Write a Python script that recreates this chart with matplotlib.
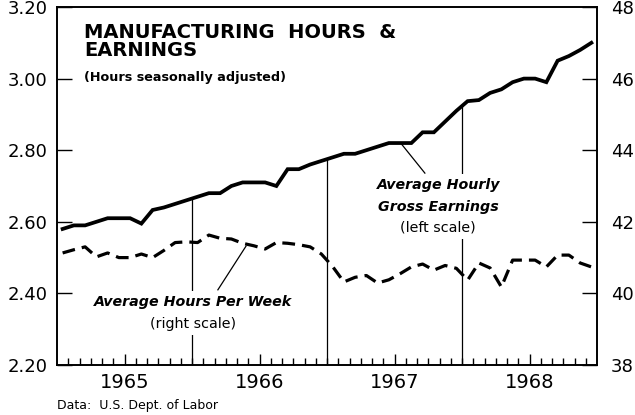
import numpy as np
import matplotlib
matplotlib.use('Agg')
import matplotlib.pyplot as plt

# monthly data, Jan 1965 - Dec 1968
years = [1965, 1966, 1967, 1968]
earnings = [2.58, 2.59, 2.59, 2.60, 2.61, 2.61, 2.61, 2.595, 2.633, 2.64, 2.65, 2.66,
            2.67, 2.68, 2.68, 2.70, 2.71, 2.71, 2.71, 2.70, 2.747, 2.747, 2.76, 2.77,
            2.78, 2.79, 2.79, 2.80, 2.81, 2.82, 2.82, 2.82, 2.85, 2.85, 2.88, 2.91,
            2.937, 2.94, 2.96, 2.97, 2.99, 3.00, 3.00, 2.99, 3.05, 3.063, 3.08, 3.10]
hours = [41.13, 41.22, 41.30, 41.02, 41.13, 41.0, 41.0, 41.1, 41.0, 41.2, 41.42, 41.44,
         41.42, 41.63, 41.54, 41.52, 41.4, 41.33, 41.24, 41.42, 41.4, 41.36, 41.3, 41.1,
         40.75, 40.32, 40.45, 40.5, 40.29, 40.38, 40.55, 40.74, 40.82, 40.65, 40.78, 40.7,
         40.37, 40.85, 40.71, 40.18, 40.93, 40.93, 40.93, 40.74, 41.07, 41.07, 40.85, 40.74]

months = np.arange(len(earnings)) + 0.5  # plotted mid-month

fig = plt.figure(figsize=(6.35, 4.15), dpi=100)
ax = fig.add_axes([57/635, 1-365/415, 540/635, 358/415])

ax.plot(months, earnings, color='black', lw=2.7, solid_joinstyle='miter')
ax.set_xlim(0, 48)
ax.set_ylim(2.20, 3.20)

ax2 = ax.twinx()
ln, = ax2.plot(months, hours, color='black', lw=2.3)
ln.set_dashes((4, 2.2))
ax2.set_ylim(38, 48)

# year divider lines up to the earnings line
for b in [12, 24, 36]:
    top = np.interp(b, months, earnings)
    ax.plot([b, b], [2.20, top], color='black', lw=0.9, zorder=1)

# ticks
ax.set_yticks([2.20, 2.40, 2.60, 2.80, 3.00, 3.20])
ax.set_yticklabels(['2.20', '2.40', '2.60', '2.80', '3.00', '3.20'])
ax.tick_params(axis='y', direction='in', length=11, width=1, labelsize=13, pad=7)
ax2.set_yticks([38, 40, 42, 44, 46, 48])
ax2.tick_params(axis='y', direction='in', length=11, width=1, labelsize=13, pad=10)

ax.set_xticks([6, 18, 30, 42])
ax.set_xticklabels([str(y) for y in years])
ax.set_xticks(np.arange(1, 48), minor=True)
ax.tick_params(axis='x', which='major', direction='in', length=8, width=1,
               labelsize=14, pad=6)
ax.tick_params(axis='x', which='minor', direction='in', length=5, width=1)
ax2.tick_params(axis='x', which='both', bottom=False)

for a in (ax, ax2):
    for s in a.spines.values():
        s.set_linewidth(1.2)

# title block
ax.text(0.05, 0.955, 'MANUFACTURING  HOURS  &\nEARNINGS', transform=ax.transAxes,
        fontsize=14, fontweight='bold', va='top', ha='left', linespacing=0.9)
ax.text(0.05, 0.82, '(Hours seasonally adjusted)', transform=ax.transAxes,
        fontsize=9.2, fontweight='bold', va='top', ha='left')

# labels
white = dict(facecolor='white', edgecolor='none', pad=3)
lbl = dict(fontsize=10.3, ha='center', va='center', bbox=white, zorder=3)
ax.text(33.9, 2.703, 'Average Hourly', fontweight='bold', style='italic', **lbl)
ax.text(33.9, 2.642, 'Gross Earnings', fontweight='bold', style='italic', **lbl)
ax.text(33.9, 2.583, '(left scale)', **lbl)
ax.plot([30.6, 32.7], [2.818, 2.736], color='black', lw=0.9)

ax.text(12.1, 2.376, 'Average Hours Per Week', fontweight='bold', style='italic', **lbl)
ax.text(12.1, 2.315, '(right scale)', **lbl)
ax.plot([14.3, 16.8], [2.41, 2.532], color='black', lw=0.9)

fig.text(57/635, 1-405/415, 'Data:  U.S. Dept. of Labor', fontsize=9,
         ha='left', va='center')

fig.savefig('out.png', dpi=100)
